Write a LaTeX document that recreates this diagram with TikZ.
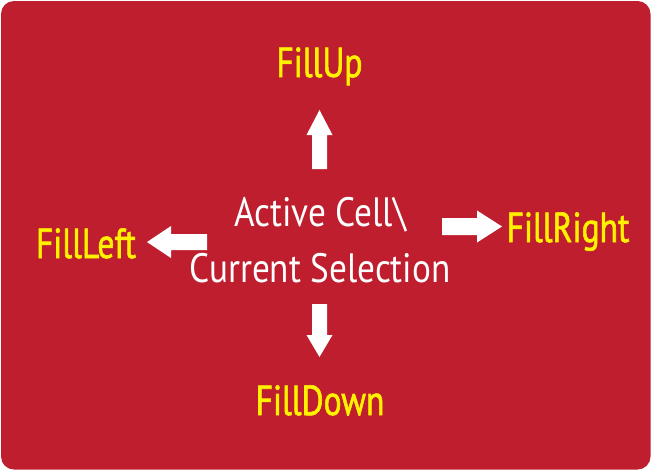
\documentclass[tikz,border=0pt]{standalone}
\usepackage{fontspec}
\setmainfont{PT Sans}
\newfontfamily\centreFont[FakeStretch=0.86]{PT Sans}
\newfontfamily\labelFont[FakeStretch=0.8, FakeBold=1.4]{PT Sans}
\usepackage{tikz}
\tikzstyle{canvas} = [x = 1pt, y = -1pt]
\definecolor{panelColor}{RGB}{190,30,45}
\definecolor{labelColor}{RGB}{255,242,0}
\tikzstyle{panelStyle} = [fill=panelColor, rounded corners = 13pt]
\tikzstyle{arrowStyle} = [fill=white]
\tikzstyle{labelText} = [color=labelColor, font=\labelFont\fontsize{42}{42}\selectfont, inner sep=0pt, anchor=base]
\tikzstyle{centreText} = [color=white, font=\centreFont\fontsize{41}{41}\selectfont, inner sep=0pt, anchor=base]
% tail x, tail y, angle, length, head length, shaft half width, head half width
\newcommand{\blockArrow}[7]{\fill [arrowStyle, shift={(#1,#2)}, rotate=#3] (0,-#6) -- (#4 - #5,-#6) -- (#4 - #5,-#7) -- (#4,0) -- (#4 - #5,#7) -- (#4 - #5,#6) -- (0,#6) -- cycle;}
\begin{document}
\begin{tikzpicture}[canvas]
  \useasboundingbox (0,0) rectangle (652,471);
  \fill [panelStyle] (1,1) rectangle (650.5,469.5);
  \node [centreText] (active) at (320.5,226) {Active Cell\textbackslash};
  \node [centreText] (selection) at (320,282) {Current Selection};
  \node [labelText] (fillUp) at (319.5,77) {FillUp};
  \node [labelText] (fillDown) at (320,415) {FillDown};
  \node [labelText] (fillLeft) at (86,258) {FillLeft};
  \node [labelText] (fillRight) at (568,242) {FillRight};
  \blockArrow{319.5}{169}{90}{59}{25}{7.5}{13}
  \blockArrow{207}{242}{180}{60}{24}{8}{16}
  \blockArrow{442}{226.5}{0}{60}{25}{8.5}{16}
  \blockArrow{319.5}{304}{270}{53}{22}{7.5}{13}
\end{tikzpicture}
\end{document}
